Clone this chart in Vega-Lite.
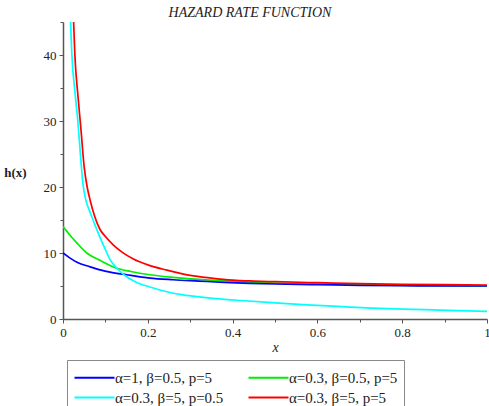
{
  "$schema": "https://vega.github.io/schema/vega-lite/v6.json",
  "width": 424,
  "height": 297,
  "autosize": {"type": "none"},
  "padding": {"left": 63, "top": 22, "right": 2, "bottom": 87},
  "background": "white",
  "title": {
    "text": "HAZARD RATE FUNCTION",
    "anchor": "middle",
    "frame": "group",
    "font": "Liberation Serif",
    "fontStyle": "italic",
    "fontWeight": "normal",
    "fontSize": 14,
    "color": "#222",
    "baseline": "middle",
    "offset": 1,
    "dx": -25,
    "dy": 12
  },
  "data": {
    "values": [
      {"s": "α=0.3, β=0.5, p=5", "x": 0, "y": 14},
      {"s": "α=0.3, β=0.5, p=5", "x": 0.015, "y": 12.8},
      {"s": "α=0.3, β=0.5, p=5", "x": 0.033, "y": 11.5},
      {"s": "α=0.3, β=0.5, p=5", "x": 0.056, "y": 10},
      {"s": "α=0.3, β=0.5, p=5", "x": 0.087, "y": 8.9},
      {"s": "α=0.3, β=0.5, p=5", "x": 0.127, "y": 7.7},
      {"s": "α=0.3, β=0.5, p=5", "x": 0.16, "y": 7.2},
      {"s": "α=0.3, β=0.5, p=5", "x": 0.205, "y": 6.7},
      {"s": "α=0.3, β=0.5, p=5", "x": 0.26, "y": 6.3},
      {"s": "α=0.3, β=0.5, p=5", "x": 0.32, "y": 6.0},
      {"s": "α=0.3, β=0.5, p=5", "x": 0.38, "y": 5.8},
      {"s": "α=0.3, β=0.5, p=5", "x": 0.44, "y": 5.6},
      {"s": "α=0.3, β=0.5, p=5", "x": 0.5, "y": 5.45},
      {"s": "α=0.3, β=0.5, p=5", "x": 0.6, "y": 5.3},
      {"s": "α=0.3, β=0.5, p=5", "x": 0.7, "y": 5.2},
      {"s": "α=0.3, β=0.5, p=5", "x": 0.8, "y": 5.1},
      {"s": "α=0.3, β=0.5, p=5", "x": 0.9, "y": 5.05},
      {"s": "α=0.3, β=0.5, p=5", "x": 1.0, "y": 5.0},

      {"s": "α=1, β=0.5, p=5", "x": 0, "y": 10},
      {"s": "α=1, β=0.5, p=5", "x": 0.015, "y": 9.3},
      {"s": "α=1, β=0.5, p=5", "x": 0.033, "y": 8.6},
      {"s": "α=1, β=0.5, p=5", "x": 0.064, "y": 7.9},
      {"s": "α=1, β=0.5, p=5", "x": 0.09, "y": 7.4},
      {"s": "α=1, β=0.5, p=5", "x": 0.111, "y": 7.1},
      {"s": "α=1, β=0.5, p=5", "x": 0.15, "y": 6.7},
      {"s": "α=1, β=0.5, p=5", "x": 0.205, "y": 6.2},
      {"s": "α=1, β=0.5, p=5", "x": 0.26, "y": 5.95},
      {"s": "α=1, β=0.5, p=5", "x": 0.32, "y": 5.75},
      {"s": "α=1, β=0.5, p=5", "x": 0.38, "y": 5.55},
      {"s": "α=1, β=0.5, p=5", "x": 0.44, "y": 5.4},
      {"s": "α=1, β=0.5, p=5", "x": 0.5, "y": 5.3},
      {"s": "α=1, β=0.5, p=5", "x": 0.6, "y": 5.2},
      {"s": "α=1, β=0.5, p=5", "x": 0.7, "y": 5.1},
      {"s": "α=1, β=0.5, p=5", "x": 0.8, "y": 5.05},
      {"s": "α=1, β=0.5, p=5", "x": 0.9, "y": 5.0},
      {"s": "α=1, β=0.5, p=5", "x": 1.0, "y": 5.0},

      {"s": "α=0.3, β=5, p=0.5", "x": 0.01, "y": 80},
      {"s": "α=0.3, β=5, p=0.5", "x": 0.018, "y": 45},
      {"s": "α=0.3, β=5, p=0.5", "x": 0.021, "y": 40},
      {"s": "α=0.3, β=5, p=0.5", "x": 0.028, "y": 34.5},
      {"s": "α=0.3, β=5, p=0.5", "x": 0.035, "y": 30},
      {"s": "α=0.3, β=5, p=0.5", "x": 0.041, "y": 25},
      {"s": "α=0.3, β=5, p=0.5", "x": 0.047, "y": 20.5},
      {"s": "α=0.3, β=5, p=0.5", "x": 0.054, "y": 18},
      {"s": "α=0.3, β=5, p=0.5", "x": 0.062, "y": 16.5},
      {"s": "α=0.3, β=5, p=0.5", "x": 0.071, "y": 15},
      {"s": "α=0.3, β=5, p=0.5", "x": 0.08, "y": 13.5},
      {"s": "α=0.3, β=5, p=0.5", "x": 0.087, "y": 12.4},
      {"s": "α=0.3, β=5, p=0.5", "x": 0.1, "y": 10.5},
      {"s": "α=0.3, β=5, p=0.5", "x": 0.111, "y": 9},
      {"s": "α=0.3, β=5, p=0.5", "x": 0.13, "y": 7.5},
      {"s": "α=0.3, β=5, p=0.5", "x": 0.15, "y": 6.4},
      {"s": "α=0.3, β=5, p=0.5", "x": 0.175, "y": 5.5},
      {"s": "α=0.3, β=5, p=0.5", "x": 0.205, "y": 4.85},
      {"s": "α=0.3, β=5, p=0.5", "x": 0.24, "y": 4.2},
      {"s": "α=0.3, β=5, p=0.5", "x": 0.283, "y": 3.65},
      {"s": "α=0.3, β=5, p=0.5", "x": 0.32, "y": 3.35},
      {"s": "α=0.3, β=5, p=0.5", "x": 0.36, "y": 3.1},
      {"s": "α=0.3, β=5, p=0.5", "x": 0.42, "y": 2.8},
      {"s": "α=0.3, β=5, p=0.5", "x": 0.5, "y": 2.45},
      {"s": "α=0.3, β=5, p=0.5", "x": 0.575, "y": 2.15},
      {"s": "α=0.3, β=5, p=0.5", "x": 0.65, "y": 1.9},
      {"s": "α=0.3, β=5, p=0.5", "x": 0.73, "y": 1.65},
      {"s": "α=0.3, β=5, p=0.5", "x": 0.8, "y": 1.5},
      {"s": "α=0.3, β=5, p=0.5", "x": 0.89, "y": 1.35},
      {"s": "α=0.3, β=5, p=0.5", "x": 1.0, "y": 1.15},

      {"s": "α=0.3, β=5, p=5", "x": 0.012, "y": 80},
      {"s": "α=0.3, β=5, p=5", "x": 0.02, "y": 55},
      {"s": "α=0.3, β=5, p=5", "x": 0.025, "y": 45},
      {"s": "α=0.3, β=5, p=5", "x": 0.028, "y": 40},
      {"s": "α=0.3, β=5, p=5", "x": 0.035, "y": 34},
      {"s": "α=0.3, β=5, p=5", "x": 0.042, "y": 29},
      {"s": "α=0.3, β=5, p=5", "x": 0.05, "y": 23},
      {"s": "α=0.3, β=5, p=5", "x": 0.057, "y": 20},
      {"s": "α=0.3, β=5, p=5", "x": 0.064, "y": 18},
      {"s": "α=0.3, β=5, p=5", "x": 0.075, "y": 15.5},
      {"s": "α=0.3, β=5, p=5", "x": 0.087, "y": 13.6},
      {"s": "α=0.3, β=5, p=5", "x": 0.1, "y": 12.5},
      {"s": "α=0.3, β=5, p=5", "x": 0.119, "y": 11.2},
      {"s": "α=0.3, β=5, p=5", "x": 0.14, "y": 10.1},
      {"s": "α=0.3, β=5, p=5", "x": 0.166, "y": 9.1},
      {"s": "α=0.3, β=5, p=5", "x": 0.2, "y": 8.2},
      {"s": "α=0.3, β=5, p=5", "x": 0.245, "y": 7.4},
      {"s": "α=0.3, β=5, p=5", "x": 0.3, "y": 6.6},
      {"s": "α=0.3, β=5, p=5", "x": 0.35, "y": 6.2},
      {"s": "α=0.3, β=5, p=5", "x": 0.4, "y": 5.9},
      {"s": "α=0.3, β=5, p=5", "x": 0.45, "y": 5.75},
      {"s": "α=0.3, β=5, p=5", "x": 0.5, "y": 5.65},
      {"s": "α=0.3, β=5, p=5", "x": 0.6, "y": 5.5},
      {"s": "α=0.3, β=5, p=5", "x": 0.7, "y": 5.35},
      {"s": "α=0.3, β=5, p=5", "x": 0.8, "y": 5.25},
      {"s": "α=0.3, β=5, p=5", "x": 0.9, "y": 5.2},
      {"s": "α=0.3, β=5, p=5", "x": 1.0, "y": 5.15}
    ]
  },
  "mark": {"type": "line", "clip": true, "strokeWidth": 1.7, "interpolate": "monotone"},
  "encoding": {
    "x": {
      "field": "x",
      "type": "quantitative",
      "scale": {"domain": [0, 1], "nice": false, "zero": false},
      "axis": {
        "values": [0, 0.1, 0.2, 0.3, 0.4, 0.5, 0.6, 0.7, 0.8, 0.9, 1],
        "labelExpr": "round(datum.value*10) % 2 == 0 ? format(datum.value, '~g') : ''",
        "grid": false,
        "title": "x",
        "titleFont": "Liberation Serif",
        "titleFontStyle": "italic",
        "titleFontWeight": "normal",
        "titleFontSize": 14,
        "titleColor": "#222",
        "titleY": 28,
        "titleBaseline": "middle",
        "domainColor": "#555",
        "domainWidth": 1.5,
        "tickColor": "#555",
        "tickSize": {"condition": {"test": "round(datum.value*10) % 2 == 0", "value": 4}, "value": 3},
        "labelFont": "Liberation Serif",
        "labelFontSize": 13,
        "labelColor": "#222",
        "labelPadding": 3,
        "labelFlush": false,
        "labelOverlap": false
      }
    },
    "y": {
      "field": "y",
      "type": "quantitative",
      "scale": {"domain": [0, 45], "nice": false},
      "axis": {
        "values": [0, 5, 10, 15, 20, 25, 30, 35, 40, 45],
        "labelExpr": "datum.value % 10 == 0 ? format(datum.value, 'd') : ''",
        "grid": false,
        "title": "h(x)",
        "titleAngle": 0,
        "titleX": -48,
        "titleY": 150,
        "titleAlign": "center",
        "titleBaseline": "middle",
        "titleFont": "Liberation Serif",
        "titleFontWeight": "bold",
        "titleFontSize": 13,
        "titleColor": "#222",
        "domainColor": "#555",
        "domainWidth": 1.5,
        "tickColor": "#555",
        "tickSize": {"condition": {"test": "datum.value % 10 == 0", "value": 4}, "value": 3},
        "labelFont": "Liberation Serif",
        "labelFontSize": 13,
        "labelColor": "#222",
        "labelPadding": 3,
        "labelFlush": false,
        "labelOverlap": false
      }
    },
    "color": {
      "field": "s",
      "type": "nominal",
      "scale": {
        "domain": ["α=1, β=0.5, p=5", "α=0.3, β=0.5, p=5", "α=0.3, β=5, p=0.5", "α=0.3, β=5, p=5"],
        "range": ["#0000ff", "#00ee00", "#00ffff", "#ff0000"]
      },
      "legend": {
        "orient": "none",
        "direction": "horizontal",
        "legendX": 4,
        "legendY": 338,
        "title": null,
        "columns": 2,
        "columnPadding": 20,
        "rowPadding": 0,
        "padding": 6,
        "strokeColor": "#888",
        "symbolType": "M-1,0H3",
        "symbolSize": 400,
        "symbolStrokeWidth": 2.2,
        "labelOffset": 19,
        "labelFont": "Liberation Serif",
        "labelFontSize": 15,
        "labelColor": "#222",
        "labelLimit": 300
      }
    }
  },
  "config": {"view": {"stroke": null}}
}
